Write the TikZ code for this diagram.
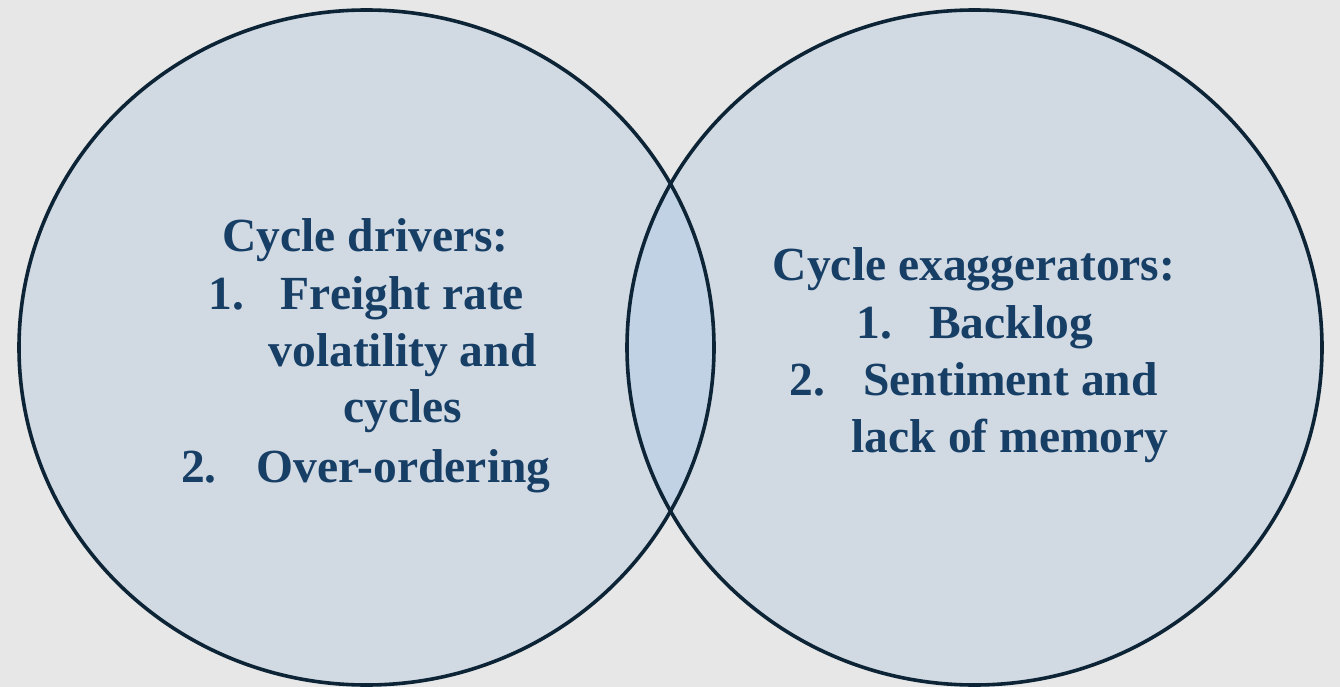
\documentclass[tikz,border=0pt]{standalone}
\usepackage{fontspec}
\setmainfont{Liberation Serif}
\definecolor{pagegray}{HTML}{E7E7E7}
\definecolor{setfill}{HTML}{D1D9E3}
\definecolor{overlapfill}{HTML}{C0D2E3}
\definecolor{ringline}{HTML}{0C2436}
\definecolor{labelblue}{HTML}{173F66}
\begin{document}
\begin{tikzpicture}[x=1pt,y=-1pt,
  ring/.style={draw=ringline,line width=3.6pt},
  lbl/.style={anchor=base,inner sep=0pt,text=labelblue,
    font=\fontsize{47.5}{57}\selectfont\bfseries}]
  % page background
  \fill[pagegray] (0,0) rectangle (1340,687);
  \useasboundingbox (0,0) rectangle (1340,687);
  % the two sets
  \coordinate (cl) at (366.5,347.5);
  \coordinate (cr) at (974.5,347.5);
  \fill[setfill] (cl) ellipse [x radius=347.5pt, y radius=337.5pt];
  \fill[setfill] (cr) ellipse [x radius=347.5pt, y radius=337.5pt];
  % overlap
  \begin{scope}
    \clip (cl) ellipse [x radius=347.5pt, y radius=337.5pt];
    \fill[overlapfill] (cr) ellipse [x radius=347.5pt, y radius=337.5pt];
  \end{scope}
  \draw[ring] (cl) ellipse [x radius=347.5pt, y radius=337.5pt];
  \draw[ring] (cr) ellipse [x radius=347.5pt, y radius=337.5pt];
  % left set: drivers
  \node[lbl] (dhead) at (365.5,251) {Cycle drivers:};
  \node[lbl] (dn1) at (226.5,309) {1.};
  \node[lbl] (d1a) at (402.5,309) {Freight rate};
  \node[lbl] (d1b) at (402.5,366) {volatility and};
  \node[lbl] (d1c) at (402.5,422) {cycles};
  \node[lbl] (dn2) at (199,482) {2.};
  \node[lbl] (d2) at (403.5,482) {Over-ordering};
  % right set: exaggerators
  \node[lbl] (ehead) at (974,280) {Cycle exaggerators:};
  \node[lbl] (en1) at (874.5,338) {1.};
  \node[lbl] (e1) at (1011,338) {Backlog};
  \node[lbl] (en2) at (807.5,395) {2.};
  \node[lbl] (e2a) at (1010.5,395) {Sentiment and};
  \node[lbl] (e2b) at (1010,452) {lack of memory};
\end{tikzpicture}
\end{document}
